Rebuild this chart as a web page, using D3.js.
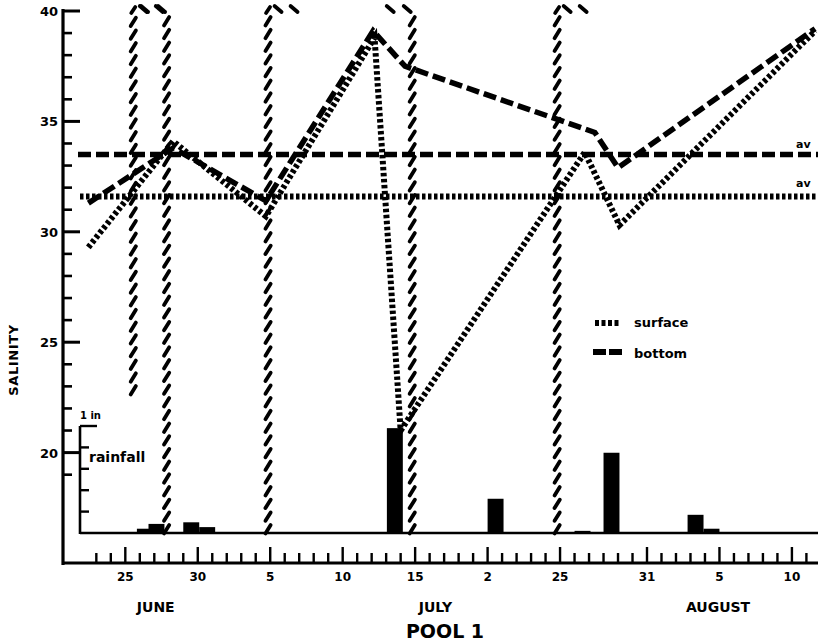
<!DOCTYPE html>
<html>
<head>
<meta charset="utf-8">
<script src="https://cdn.jsdelivr.net/npm/d3@7"></script>
<style>
  body { margin: 0; background: #fff; }
  svg { display: block; }
  text { font-family: "DejaVu Sans", "Open Sans", sans-serif; font-weight: bold; fill: #000; }
</style>
</head>
<body>
<svg id="chart" width="818" height="642"></svg>
<script>
// Day index on the compressed calendar axis: 0 = June 25.
const surfaceDays     = [-2.55, 3.3, 9.7, 17.2, 19.0, 31.7, 34.1, 47.6];
const surfaceSalinity = [29.3, 34.1, 30.7, 38.8, 21.0, 33.6, 30.3, 39.1];
const bottomDays      = [-2.55, 3.3, 9.7, 17.1, 19.3, 32.4, 34.0, 47.6];
const bottomSalinity  = [31.3, 33.8, 31.4, 39.1, 37.5, 34.5, 32.9, 39.2];
const surfaceAverage = 31.6;
const bottomAverage  = 33.5;

// Daily rainfall (inches), bars start on the given day.
const rainDays   = [0.8, 1.6, 4.0, 5.1, 18.05, 25.0, 31.0, 33.0, 38.8, 39.9];
const rainInches = [0.04, 0.085, 0.10, 0.055, 0.98, 0.32, 0.02, 0.75, 0.17, 0.04];

// Period brackets: day, opening/closing side, lowest salinity reached by the line.
const periodDays  = [0.55, 2.85, 9.85, 19.8, 29.8];
const periodSides = ["open", "close", "open", "close", "open"];
const periodLows  = [22.6, 16.3, 16.3, 16.3, 16.3];

// Axis labelling
const dayTicks      = [0, 5, 10, 15, 20, 25, 30, 36, 41, 46];
const dayTickLabels = ["25", "30", "5", "10", "15", "2", "25", "31", "5", "10"];
const monthNames    = ["JUNE", "JULY", "AUGUST"];
const monthDays     = [2.1, 21.4, 40.9];
const salinityTicks = [20, 25, 30, 35, 40];
const rainTicks     = [0.2, 0.4, 0.6, 0.8, 1.0];

const svg = d3.select("#chart");

const x = d3.scaleLinear().domain([-4.3, 47.8]).range([63, 818]);
const y = d3.scaleLinear().domain([15, 40]).range([563, 11]);
const rain = d3.scaleLinear().domain([0, 1]).range([533, 426]);

// ---- rainfall panel ----
const rainG = svg.append("g");
rainG.append("line")
  .attr("x1", 80).attr("x2", 818)
  .attr("y1", rain(0)).attr("y2", rain(0))
  .attr("stroke", "#000").attr("stroke-width", 2.6);
rainG.append("line")
  .attr("x1", 80).attr("x2", 80)
  .attr("y1", rain(0) + 1).attr("y2", rain(1))
  .attr("stroke", "#000").attr("stroke-width", 2.6);
rainG.selectAll("line.rt").data(rainTicks).join("line")
  .attr("class", "rt")
  .attr("x1", 80).attr("x2", d => d === 1 ? 97 : 89)
  .attr("y1", d => rain(d)).attr("y2", d => rain(d))
  .attr("stroke", "#000").attr("stroke-width", 2.4);
rainG.append("text").attr("x", 80).attr("y", 419)
  .attr("font-size", 10).text("1 in");
rainG.append("text").attr("x", 89).attr("y", 462)
  .attr("font-size", 14).text("rainfall");
rainG.selectAll("rect").data(rainDays).join("rect")
  .attr("x", d => x(d))
  .attr("width", x(1.1) - x(0))
  .attr("y", (d, i) => rain(rainInches[i]))
  .attr("height", (d, i) => rain(0) - rain(rainInches[i]))
  .attr("fill", "#000");

// ---- period brackets drawn with slanted dashes ----
const hatchG = svg.append("g").attr("stroke", "#000").attr("stroke-width", 3.8)
  .attr("stroke-linecap", "round");
periodDays.forEach((d, i) => {
  const px = x(d);
  const top = 16;
  const bottom = y(periodLows[i]);
  const ys = d3.range(bottom - 5, top, -12.7);
  hatchG.selectAll(null).data(ys).join("line")
    .attr("x1", px - 2.6).attr("y1", v => v + 4.2)
    .attr("x2", px + 2.6).attr("y2", v => v - 4.2);
  // top corner of the bracket, dashes slant the other way along the top edge
  const hooks = periodSides[i] === "open" ? [px + 1, px + 10, px + 26] : [px - 22, px - 5];
  hooks.forEach((hx, k) => {
    if (periodSides[i] === "open" && k === 0) {
      hatchG.append("line").attr("x1", hx - 3).attr("y1", 13).attr("x2", hx + 1).attr("y2", 7);
    } else {
      hatchG.append("line").attr("x1", hx - 3.5).attr("y1", 6).attr("x2", hx + 3.5).attr("y2", 12);
    }
  });
});

// ---- averages ----
svg.append("line")
  .attr("x1", 78).attr("x2", 818)
  .attr("y1", y(bottomAverage)).attr("y2", y(bottomAverage))
  .attr("stroke", "#000").attr("stroke-width", 5.5).attr("stroke-dasharray", "13 5");
svg.append("line")
  .attr("x1", 80).attr("x2", 818)
  .attr("y1", y(surfaceAverage)).attr("y2", y(surfaceAverage))
  .attr("stroke", "#000").attr("stroke-width", 6).attr("stroke-dasharray", "3.5 2.5");
svg.append("text").attr("x", 796).attr("y", y(bottomAverage) - 7)
  .attr("font-size", 11).text("av");
svg.append("text").attr("x", 796).attr("y", y(surfaceAverage) - 9)
  .attr("font-size", 11).text("av");

// ---- salinity series ----
const line = d3.line().x(p => x(p[0])).y(p => y(p[1]));
svg.append("path")
  .attr("d", line(bottomDays.map((d, i) => [d, bottomSalinity[i]])))
  .attr("fill", "none").attr("stroke", "#000").attr("stroke-width", 5.5)
  .attr("stroke-dasharray", "13 5");
svg.append("path")
  .attr("d", line(surfaceDays.map((d, i) => [d, surfaceSalinity[i]])))
  .attr("fill", "none").attr("stroke", "#000").attr("stroke-width", 6)
  .attr("stroke-dasharray", "3.5 2.5");

// ---- legend ----
svg.append("line").attr("x1", 595).attr("x2", 620).attr("y1", 323).attr("y2", 323)
  .attr("stroke", "#000").attr("stroke-width", 6).attr("stroke-dasharray", "4 2.5");
svg.append("text").attr("x", 634).attr("y", 327).attr("font-size", 13).text("surface");
svg.append("line").attr("x1", 593).attr("x2", 623).attr("y1", 352).attr("y2", 352)
  .attr("stroke", "#000").attr("stroke-width", 6).attr("stroke-dasharray", "13 3");
svg.append("text").attr("x", 634).attr("y", 358).attr("font-size", 13).text("bottom");

// ---- salinity axis ----
const yAxisG = svg.append("g");
yAxisG.append("line").attr("x1", 63).attr("x2", 63).attr("y1", 9).attr("y2", 565)
  .attr("stroke", "#000").attr("stroke-width", 3.2);
const minorSal = d3.range(19, 41).filter(v => !salinityTicks.includes(v));
yAxisG.selectAll("line.mn").data(minorSal).join("line").attr("class", "mn")
  .attr("x1", 63).attr("x2", 72).attr("y1", d => y(d)).attr("y2", d => y(d))
  .attr("stroke", "#000").attr("stroke-width", 2.6);
yAxisG.selectAll("line.mj").data(salinityTicks).join("line").attr("class", "mj")
  .attr("x1", 63).attr("x2", 80).attr("y1", d => y(d)).attr("y2", d => y(d))
  .attr("stroke", "#000").attr("stroke-width", 3);
yAxisG.selectAll("text").data(salinityTicks).join("text")
  .attr("x", 58).attr("y", d => y(d) + 5).attr("text-anchor", "end")
  .attr("font-size", 13).text(d => d);
svg.append("text")
  .attr("transform", `translate(18,360) rotate(-90)`)
  .attr("text-anchor", "middle").attr("font-size", 13).attr("letter-spacing", 0.6)
  .text("SALINITY");

// ---- day axis ----
const xAxisG = svg.append("g");
xAxisG.append("line").attr("x1", 62).attr("x2", 818).attr("y1", y(15)).attr("y2", y(15))
  .attr("stroke", "#000").attr("stroke-width", 3.2);
const dayMinor = d3.range(-2, 48);
xAxisG.selectAll("line.dt").data(dayMinor).join("line").attr("class", "dt")
  .attr("x1", d => x(d)).attr("x2", d => x(d))
  .attr("y1", y(15)).attr("y2", d => dayTicks.includes(d) ? y(15) - 16 : y(15) - 10)
  .attr("stroke", "#000").attr("stroke-width", 2.4);
xAxisG.selectAll("text.dl").data(dayTicks).join("text").attr("class", "dl")
  .attr("x", d => x(d)).attr("y", 581).attr("text-anchor", "middle")
  .attr("font-size", 12).text((d, i) => dayTickLabels[i]);
xAxisG.selectAll("text.ml").data(monthDays).join("text").attr("class", "ml")
  .attr("x", d => x(d)).attr("y", 612).attr("text-anchor", "middle")
  .attr("font-size", 14).text((d, i) => monthNames[i]);
svg.append("text").attr("x", 445).attr("y", 638).attr("text-anchor", "middle")
  .attr("font-size", 19).text("POOL 1");
</script>
</body>
</html>
